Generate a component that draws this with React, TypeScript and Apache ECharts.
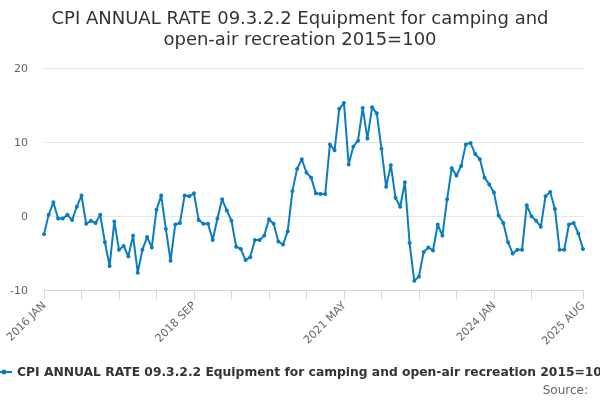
import { useEffect, useRef } from 'react';
import * as echarts from 'echarts';

const SERIES_NAME = 'CPI ANNUAL RATE 09.3.2.2 Equipment for camping and open-air recreation 2015=100';
const TITLE = 'CPI ANNUAL RATE 09.3.2.2 Equipment for camping and\nopen-air recreation 2015=100';

const MONTHS = ['JAN', 'FEB', 'MAR', 'APR', 'MAY', 'JUN', 'JUL', 'AUG', 'SEP', 'OCT', 'NOV', 'DEC'];

// 2016 JAN .. 2025 AUG, monthly
const categories: string[] = [];
for (let y = 2016; y <= 2025; y++) {
  for (let m = 0; m < 12; m++) {
    if (y === 2025 && m > 7) break;
    categories.push(`${y} ${MONTHS[m]}`);
  }
}

const values = [
  -2.4, 0.2, 1.9, -0.3, -0.3, 0.2, -0.5, 1.3, 2.8, -1.0, -0.6, -0.9,
  0.2, -3.5, -6.7, -0.7, -4.5, -4.0, -5.4, -2.6, -7.6, -4.5, -2.8, -4.2,
  0.9, 2.8, -1.7, -6.0, -1.1, -0.9, 2.8, 2.7, 3.1, -0.5, -1.0, -1.0,
  -3.2, -0.3, 2.3, 0.8, -0.6, -4.1, -4.4, -5.9, -5.5, -3.2, -3.2, -2.6,
  -0.4, -1.0, -3.4, -3.8, -2.0, 3.4, 6.4, 7.7, 5.9, 5.2, 3.1, 3.0,
  3.0, 9.7, 8.9, 14.5, 15.3, 7.0, 9.4, 10.2, 14.6, 10.5, 14.7, 13.9,
  9.1, 4.0, 6.9, 2.5, 1.3, 4.6, -3.6, -8.7, -8.1, -4.8, -4.2, -4.6,
  -1.1, -2.6, 2.3, 6.5, 5.5, 6.8, 9.7, 9.9, 8.4, 7.7, 5.2, 4.3,
  3.2, 0.1, -0.9, -3.5, -5.0, -4.5, -4.5, 1.5, 0.0, -0.6, -1.4, 2.7,
  3.3, 1.0, -4.5, -4.5, -1.1, -0.9, -2.3, -4.4,
];

const FONT = 'DejaVu Sans';
const LAST = categories.length - 1;

// line + dot legend marker
const LEGEND_ICON =
  'path://M0,1.6 H5.6 V3.4 H0 Z M10.4,1.6 H16 V3.4 H10.4 Z ' +
  'M5.5,2.5 A2.5,2.5 0 1,0 10.5,2.5 A2.5,2.5 0 1,0 5.5,2.5 Z';

export default function App() {
  const ref = useRef<HTMLDivElement>(null);

  useEffect(() => {
    if (!ref.current) return;
    document.body.style.margin = '0';
    document.body.style.overflow = 'hidden';
    const chart = echarts.init(ref.current, null, { renderer: 'svg' });
    chart.setOption({
      animation: false,
      title: {
        text: TITLE,
        left: 'center',
        top: 2,
        textStyle: { fontFamily: FONT, fontSize: 18, fontWeight: 'normal', color: '#333', lineHeight: 21 },
      },
      legend: {
        data: [{ name: SERIES_NAME, icon: LEGEND_ICON }],
        left: -4,
        top: 366,
        padding: 0,
        itemWidth: 16,
        itemHeight: 5,
        itemGap: 5,
        textStyle: { fontFamily: FONT, fontSize: 12.3, fontWeight: 'bold', color: '#333' },
      },
      graphic: [
        {
          type: 'text',
          right: 12,
          top: 384,
          style: { text: 'Source:', fontFamily: FONT, fontSize: 12, fill: '#666' },
        },
      ],
      grid: { left: 44, right: 17, top: 68, bottom: 109.5, containLabel: false },
      xAxis: {
        type: 'category',
        data: categories,
        boundaryGap: false,
        axisLine: { onZero: false, lineStyle: { color: '#ccd6eb' } },
        axisTick: {
          interval: (i: number) => (i % 8 === 0 && i <= 104) || i === LAST,
          length: 9,
          lineStyle: { color: '#ccd6eb' },
        },
        axisLabel: {
          interval: (i: number) => i % 32 === 0 || i === LAST,
          rotate: 45,
          fontFamily: FONT,
          fontSize: 11,
          color: '#666',
          margin: 13,
        },
        splitLine: { show: false },
      },
      yAxis: {
        type: 'value',
        min: -10,
        max: 20,
        interval: 10,
        axisLine: { show: false },
        axisTick: { show: false },
        axisLabel: { fontFamily: FONT, fontSize: 11, color: '#666', margin: 16 },
        splitLine: { lineStyle: { color: '#e6e6e6' } },
      },
      series: [
        {
          name: SERIES_NAME,
          type: 'line',
          data: values,
          color: '#0b7cc1',
          lineStyle: { width: 2 },
          symbol: 'circle',
          symbolSize: 4,
          showAllSymbol: true,
        },
      ],
    });
    return () => chart.dispose();
  }, []);

  return (
    <div style={{ position: 'fixed', left: 0, top: 0, width: 600, height: 400, overflow: 'hidden' }}>
      <div ref={ref} style={{ width: 600, height: 400 }} />
    </div>
  );
}
